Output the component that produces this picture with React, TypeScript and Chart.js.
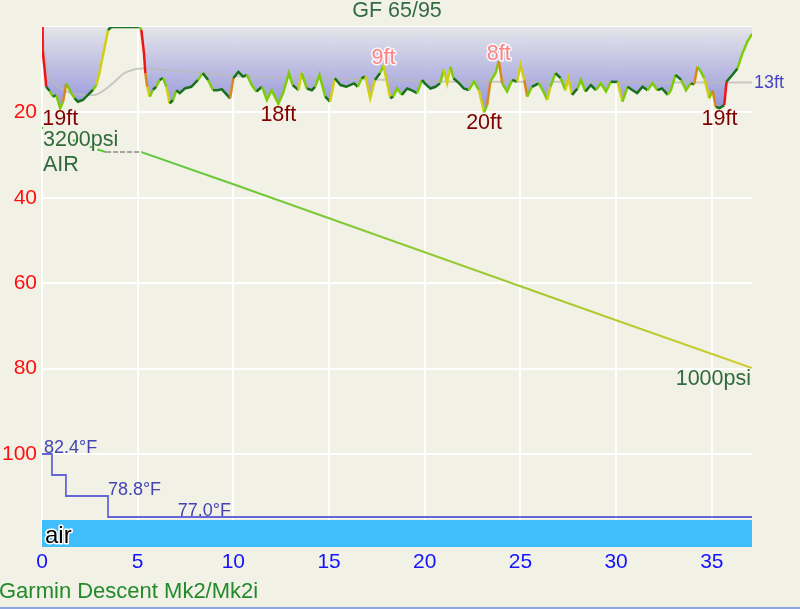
import { useEffect, useRef } from 'react';
import { Chart, registerables } from 'chart.js';

Chart.register(...registerables);

const FONT = "'Liberation Sans', Arial, Helvetica, sans-serif";
const BG = '#F2F1E6';

const chartTitle = 'GF 65/95';
const diveComputer = 'Garmin Descent Mk2/Mk2i';

// dive time (min) and depth (ft)
const depthTimes = [
  0, 0.02, 0.04, 0.14, 0.22, 0.4, 0.57, 0.75, 0.95, 1.1, 1.27, 1.36, 1.53, 1.7, 1.88, 2.14, 2.4, 2.67, 2.84, 3.0, 3.1,
  3.28, 3.45, 3.62, 5.1, 5.19, 5.33, 5.4, 5.5, 5.63, 5.8, 5.97, 6.15, 6.33, 6.5, 6.67, 6.85, 7.02, 7.2, 7.46, 7.8,
  8.15, 8.4, 8.68, 8.94, 9.15, 9.4, 9.83, 10.0, 10.26, 10.5, 10.7, 10.96, 11.2, 11.5, 11.75, 12.0, 12.35, 12.6, 12.9, 13.1,
  13.4, 13.57, 13.84, 14.1, 14.27, 14.5, 14.8, 15.05, 15.3, 15.6, 15.9, 16.3, 16.5, 16.7, 16.9, 17.15, 17.4, 17.67, 17.84, 18.0,
  18.2, 18.35, 18.56, 18.8, 19.08, 19.3, 19.6, 19.86, 20.0, 20.3, 20.56, 20.8, 21.0, 21.17, 21.34, 21.5, 21.8, 22.04, 22.3, 22.57,
  22.83, 23.1, 23.26, 23.43, 23.7, 23.87, 24.05, 24.3, 24.57, 24.83, 25.0, 25.2, 25.35, 25.6, 25.96, 26.2, 26.4, 26.57, 26.83, 27.1,
  27.35, 27.5, 27.7, 27.98, 28.16, 28.4, 28.68, 28.94, 29.2, 29.47, 29.73, 30.08, 30.33, 30.6, 30.86, 31.1, 31.38, 31.64, 31.9, 32.16,
  32.4, 32.7, 32.86, 33.1, 33.4, 33.65, 33.9, 34.08, 34.25, 34.43, 34.6, 34.87, 35.04, 35.2, 35.4, 35.65, 35.77, 36.08, 36.34, 36.6,
  36.86, 37.1,
];
const depthFeet = [
  0, 4.5, 5.4, 10, 14, 15, 16.3, 16, 19, 17.5, 13.2, 14, 15.5, 16.7, 17.5, 17.1, 15.9, 14.7, 13.6, 10.8, 8.5,
  4.6, 0.7, 0, 0, 0.7, 6.2, 10.8, 14, 16.3, 14.7, 14, 12.4, 12, 14, 17.9, 17.1, 14.8, 15.5, 14.4, 14,
  12.4, 10.8, 12.4, 14.8, 14.8, 14.6, 16.7, 12, 10.5, 11.6, 11.2, 13.6, 15.1, 14, 17.1, 14.8, 18, 15.5, 10.8, 13.6,
  14.8, 10.8, 14.4, 14.8, 14, 11.2, 16.3, 17.5, 12, 13.6, 14, 13.2, 14, 12, 11.6, 16.7, 12.4, 10.8, 9, 12.4,
  16.7, 16.3, 14.4, 15.9, 14.4, 14.8, 15.5, 12.4, 13.2, 14.4, 14, 13.2, 10, 13.2, 9.3, 12, 13.2, 14.4, 14.8, 12.8,
  14.8, 20, 18.3, 12.8, 10.8, 8, 13.2, 15.1, 12.4, 12.8, 8.9, 12.4, 16.3, 14, 13.2, 15.1, 17.1, 14, 10.8, 12,
  14.8, 12, 15.9, 14.4, 12.4, 15.1, 13.6, 14.8, 13.2, 15.1, 12.8, 12.9, 17.5, 14, 14.8, 15.5, 14, 14.8, 13.2, 14.8,
  14.4, 15.9, 14.8, 11.2, 12.4, 14.8, 13.2, 13.4, 9.3, 10.5, 12, 16.7, 14.8, 18.7, 19, 18.3, 12.8, 11.2, 9.7, 6.2,
  3.4, 1.6,
];

// running mean depth (ft)
const meanTimes = [0, 0.22, 0.49, 0.84, 1.53, 2.23, 2.75, 3.28, 3.8, 4.3, 4.85, 5.2, 6.75, 8.5, 10.5, 14, 18.4, 22, 27, 32, 37.1];
const meanFeet = [0, 9.3, 12.4, 14, 15.5, 15.9, 15.9, 14.7, 12.8, 10.8, 9.9, 9.7, 10.2, 10.8, 11.6, 12.0, 12.4, 12.8, 12.8, 13.0, 13.0];

// tank pressure (psi)
const pressureTimes = [0, 1.67, 2.55, 2.95, 3.35, 5.2, 10, 20, 30, 37.1];
const pressurePsi = [3200, 3086, 3026, 3001, 2979, 2979, 2685, 2061, 1438, 1000];

// water temperature (°F)
const tempTimes = [0, 0.52, 1.25, 3.45, 37.1];
const tempF = [82.4, 80.6, 78.8, 77.0, 77.0];
const tempLabelTimes = [0.05, 3.39, 7.04];
const tempLabelF = [82.4, 78.8, 77.0];

// gas
const gasName = 'air';
const gasStart = 0;
const gasEnd = 37.1;

// depth annotations (times of marked extremes)
const deepLabelTimes = [0.95, 12.35, 23.1, 35.4];
const shallowLabelTimes = [17.84, 23.87];

const xTicks = [0, 5, 10, 15, 20, 25, 30, 35];
const depthTicks = [0, 20, 40, 60, 80, 100];

const xy = (xs: number[], ys: number[]) => xs.map((x, i) => ({ x, y: ys[i] }));

function speedColor(c: any) {
  const dt = c.p1.parsed.x - c.p0.parsed.x;
  const dd = Math.abs(c.p1.parsed.y - c.p0.parsed.y);
  const v = dt > 0 ? dd / dt : 0;
  if (v < 6) return '#17701A';
  if (v < 17) return '#7CCC0A';
  if (v < 24) return '#D2CF10';
  if (v < 34) return '#D88A18';
  return '#F01414';
}

function drawText(ctx: CanvasRenderingContext2D, text: string, x: number, y: number, color: string, size: number, align: CanvasTextAlign, baseline: CanvasTextBaseline, halo?: string) {
  ctx.save();
  ctx.font = `${size}px ${FONT}`;
  ctx.textAlign = align;
  ctx.textBaseline = baseline;
  if (halo) {
    ctx.strokeStyle = halo;
    ctx.lineWidth = 3;
    ctx.lineJoin = 'round';
    ctx.strokeText(text, x, y);
  }
  ctx.fillStyle = color;
  ctx.fillText(text, x, y);
  ctx.restore();
}

const decorPlugin = {
  id: 'decor',
  beforeDraw(chart: any) {
    const { ctx, width, height } = chart;
    ctx.save();
    ctx.fillStyle = BG;
    ctx.fillRect(0, 0, width, height);
    ctx.fillStyle = '#8EA6DE';
    ctx.fillRect(0, height - 2, width, 2);
    ctx.restore();
  },
  afterDatasetsDraw(chart: any) {
    const { ctx, chartArea } = chart;
    const xs = chart.scales.x;
    const x0 = xs.getPixelForValue(gasStart);
    const x1 = xs.getPixelForValue(gasEnd);
    ctx.save();
    ctx.fillStyle = '#3FBEFB';
    ctx.fillRect(x0, chartArea.bottom - 27, x1 - x0, 27);
    ctx.restore();
    drawText(ctx, gasName, x0 + 3, chartArea.bottom - 4.5, '#000000', 24, 'left', 'alphabetic', '#FFFFFF');
  },
  afterDraw(chart: any) {
    const { ctx, chartArea } = chart;
    const xs = chart.scales.x;
    const ys = chart.scales.y;
    const yp = chart.scales.yp;
    const yt = chart.scales.yt;

    drawText(ctx, chartTitle, (chartArea.left + chartArea.right) / 2, 17, '#336B44', 21.5, 'center', 'alphabetic');
    drawText(ctx, diveComputer, -1, 598, '#23892A', 22, 'left', 'alphabetic');

    deepLabelTimes.forEach((t) => {
      const d = depthFeet[depthTimes.indexOf(t)];
      drawText(ctx, `${Math.round(d)}ft`, xs.getPixelForValue(t), ys.getPixelForValue(d) + 17, '#800000', 21.5, 'center', 'alphabetic');
    });
    shallowLabelTimes.forEach((t) => {
      const d = depthFeet[depthTimes.indexOf(t)];
      drawText(ctx, `${Math.round(d)}ft`, xs.getPixelForValue(t), ys.getPixelForValue(d) - 1, '#FF8282', 21.5, 'center', 'alphabetic', 'rgba(255,255,255,0.85)');
    });

    const mLast = meanFeet[meanFeet.length - 1];
    drawText(ctx, `${Math.round(mLast)}ft`, chartArea.right + 2, ys.getPixelForValue(mLast) + 1, '#4646C4', 18, 'left', 'middle');

    const p0 = pressurePsi[0];
    const py0 = yp.getPixelForValue(p0);
    const px0 = xs.getPixelForValue(pressureTimes[0]);
    drawText(ctx, `${p0}psi`, px0 + 1, py0 + 18, '#2F6B3C', 21.5, 'left', 'alphabetic');
    drawText(ctx, gasName.toUpperCase(), px0 + 1, py0 + 43, '#2F6B3C', 21.5, 'left', 'alphabetic');
    const pn = pressurePsi[pressurePsi.length - 1];
    drawText(ctx, `${pn}psi`, xs.getPixelForValue(pressureTimes[pressureTimes.length - 1]) - 1, yp.getPixelForValue(pn) + 17, '#2F6B3C', 21.5, 'right', 'alphabetic');

    tempLabelTimes.forEach((t, i) => {
      const v = tempLabelF[i];
      drawText(ctx, `${v.toFixed(1)}°F`, xs.getPixelForValue(t) + 1, yt.getPixelForValue(v) - 1.5, '#4343B4', 18, 'left', 'alphabetic');
    });
  },
};

export default function App() {
  const ref = useRef<HTMLCanvasElement>(null);
  useEffect(() => {
    document.body.style.margin = '0';
    Chart.defaults.font.family = FONT;
    const chart = new Chart(ref.current as HTMLCanvasElement, {
      type: 'line',
      data: {
        datasets: [
          {
            label: 'depth',
            data: xy(depthTimes, depthFeet),
            yAxisID: 'y',
            borderWidth: 2.5,
            pointRadius: 0,
            tension: 0,
            order: 0,
            fill: false,
            borderColor: '#17701A',
            segment: { borderColor: speedColor },
          },
          {
            label: 'depth area',
            data: xy(depthTimes, depthFeet),
            yAxisID: 'y',
            borderWidth: 0,
            borderColor: 'rgba(0,0,0,0)',
            pointRadius: 0,
            tension: 0,
            order: 3,
            fill: { value: 0 },
            backgroundColor: (c: any) => {
              const { chart } = c;
              const a = chart.chartArea;
              if (!a || !chart.scales.y) return 'rgba(170,170,220,0.9)';
              const g = chart.ctx.createLinearGradient(0, a.top, 0, chart.scales.y.getPixelForValue(20));
              g.addColorStop(0, 'rgba(228,228,234,0.94)');
              g.addColorStop(1, 'rgba(140,140,218,0.94)');
              return g;
            },
          },
          {
            label: 'mean',
            data: xy(meanTimes, meanFeet),
            yAxisID: 'y',
            borderColor: 'rgba(185,185,185,0.75)',
            borderWidth: 2,
            pointRadius: 0,
            cubicInterpolationMode: 'monotone',
            fill: false,
            order: 1,
          },
          {
            label: 'pressure',
            data: xy(pressureTimes, pressurePsi),
            yAxisID: 'yp',
            borderWidth: 2,
            fill: false,
            order: 1,
            pointRadius: (c: any) => (c.dataIndex < 4 ? 1.3 : 0),
            pointBackgroundColor: '#55C83A',
            pointBorderWidth: 0,
            borderColor: (c: any) => {
              const { chart } = c;
              const a = chart.chartArea;
              if (!a) return '#66CC33';
              const g = chart.ctx.createLinearGradient(a.left, 0, a.right, 0);
              g.addColorStop(0, '#4CC63C');
              g.addColorStop(0.15, '#5CC83A');
              g.addColorStop(1, '#CFCB2A');
              return g;
            },
            segment: {
              borderColor: (c: any) => {
                if (c.p1.parsed.x <= 2.95) return 'rgba(0,0,0,0)';
                if (c.p0.parsed.x >= 3.35 && c.p1.parsed.x <= 5.2) return '#A4A4A0';
                return undefined;
              },
              borderDash: (c: any) => (c.p0.parsed.x >= 3.35 && c.p1.parsed.x <= 5.2 ? [5, 2] : undefined),
            },
          },
          {
            label: 'temperature',
            data: xy(tempTimes, tempF),
            yAxisID: 'yt',
            stepped: 'before',
            borderColor: '#6666D8',
            borderWidth: 1.8,
            pointRadius: 0,
            fill: false,
            order: 1,
          },
        ],
      },
      options: {
        responsive: false,
        animation: false,
        devicePixelRatio: 1,
        layout: { padding: { left: 0, right: 48, top: 27, bottom: 0 } },
        plugins: {
          legend: { display: false },
          title: { display: false },
          tooltip: { enabled: false },
          filler: { drawTime: 'beforeDatasetsDraw' },
        },
        scales: {
          x: {
            type: 'linear',
            min: 0,
            max: 37.1,
            afterBuildTicks: (axis: any) => {
              axis.ticks = xTicks.map((value) => ({ value }));
            },
            afterFit: (axis: any) => {
              axis.height = 62;
            },
            ticks: {
              color: '#1414FF',
              font: { size: 21, family: FONT },
              padding: 3,
              maxRotation: 0,
              autoSkip: false,
            },
            grid: { color: '#FFFFFF', lineWidth: 2, drawTicks: false },
            border: { display: false },
          },
          y: {
            type: 'linear',
            position: 'left',
            reverse: true,
            min: 0,
            max: 121.8,
            afterBuildTicks: (axis: any) => {
              axis.ticks = depthTicks.map((value) => ({ value }));
            },
            afterFit: (axis: any) => {
              axis.width = 42;
            },
            ticks: {
              color: '#FF1010',
              font: { size: 21, family: FONT },
              padding: 5,
              callback: (v: any) => (v === 0 ? '' : String(v)),
            },
            grid: { color: '#FFFFFF', lineWidth: 2, drawTicks: false },
            border: { display: false },
          },
          yp: { type: 'linear', display: false, min: -641, max: 4126 },
          yt: { type: 'linear', display: false, min: 74.43, max: 119.0 },
        },
      },
      plugins: [decorPlugin],
    } as any);
    return () => chart.destroy();
  }, []);
  return <canvas ref={ref} width={800} height={609} style={{ display: 'block', width: 800, height: 609 }} />;
}
